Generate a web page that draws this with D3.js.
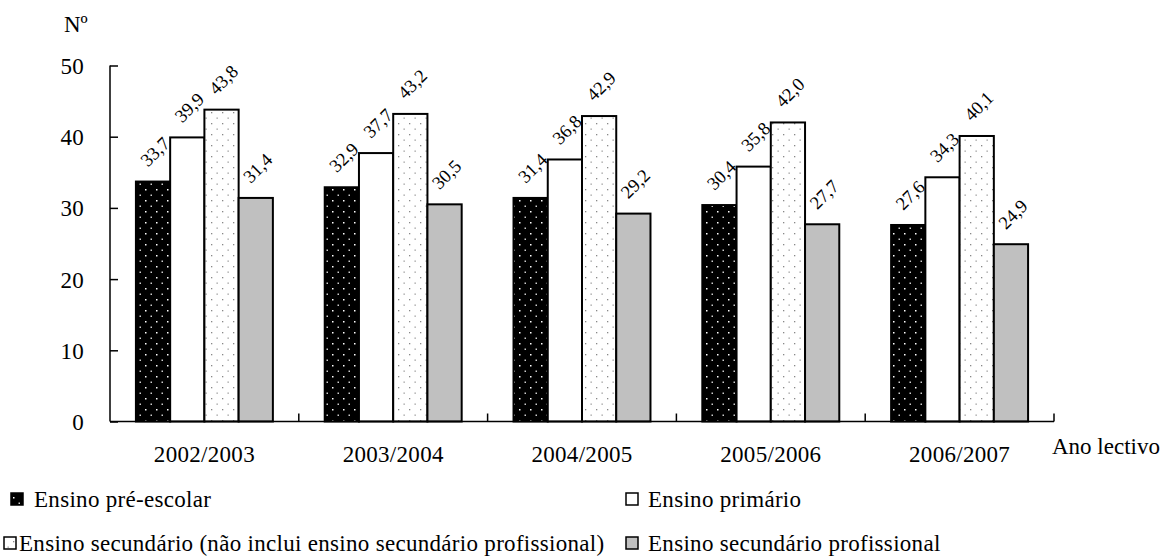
<!DOCTYPE html>
<html>
<head>
<meta charset="utf-8">
<script src="https://cdn.jsdelivr.net/npm/d3@7"></script>
<style>
  html, body { margin: 0; padding: 0; background: #fff; }
  svg { display: block; }
  text { font-family: "Liberation Serif", "Times New Roman", serif; fill: #000; }
</style>
</head>
<body>
<svg id="chart" width="1162" height="558"></svg>
<script>
const years = ["2002/2003", "2003/2004", "2004/2005", "2005/2006", "2006/2007"];
const seriesNames = [
  "Ensino pré-escolar",
  "Ensino primário",
  "Ensino secundário (não inclui ensino secundário profissional)",
  "Ensino secundário profissional"
];
const preEscolar = [33.7, 32.9, 31.4, 30.4, 27.6];
const primario = [39.9, 37.7, 36.8, 35.8, 34.3];
const secundario = [43.8, 43.2, 42.9, 42.0, 40.1];
const profissional = [31.4, 30.5, 29.2, 27.7, 24.9];
const yTicks = [0, 10, 20, 30, 40, 50];
const yTitle = "Nº";
const xTitle = "Ano lectivo";

const seriesValues = [preEscolar, primario, secundario, profissional];
const fills = ["url(#patPre)", "#ffffff", "url(#patSec)", "#c0c0c0"];

const svg = d3.select("#chart");
const defs = svg.append("defs");

// black with white dots
const p1 = defs.append("pattern").attr("id", "patPre").attr("patternUnits", "userSpaceOnUse")
  .attr("width", 11).attr("height", 11);
p1.append("rect").attr("width", 11).attr("height", 11).attr("fill", "#000");
p1.append("rect").attr("x", 2).attr("y", 2).attr("width", 1.5).attr("height", 1.5).attr("fill", "#fff");
p1.append("rect").attr("x", 7.5).attr("y", 7.5).attr("width", 1.5).attr("height", 1.5).attr("fill", "#ccc");

// white with grey dots
const p2 = defs.append("pattern").attr("id", "patSec").attr("patternUnits", "userSpaceOnUse")
  .attr("width", 11).attr("height", 11);
p2.append("rect").attr("width", 11).attr("height", 11).attr("fill", "#fff");
p2.append("rect").attr("x", 2).attr("y", 2).attr("width", 1.3).attr("height", 1.3).attr("fill", "#888");
p2.append("rect").attr("x", 7.5).attr("y", 7.5).attr("width", 1.3).attr("height", 1.3).attr("fill", "#999");

const plotLeft = 110, plotRight = 1054, plotTop = 65.5, plotBottom = 421.5;

const x0 = d3.scaleBand().domain(years).range([plotLeft, plotRight]).paddingInner(0).paddingOuter(0);
const x1 = d3.scaleBand().domain(d3.range(seriesValues.length)).range([0, x0.bandwidth()])
  .paddingInner(0).paddingOuter(0.757);
const y = d3.scaleLinear().domain([0, 50]).range([plotBottom, plotTop]);

// bars
const data = [];
years.forEach((yr, i) => {
  seriesValues.forEach((arr, s) => {
    data.push({ year: yr, s: s, v: arr[i] });
  });
});

const g = svg.append("g");
g.selectAll("rect.bar").data(data).enter().append("rect")
  .attr("class", "bar")
  .attr("x", d => x0(d.year) + x1(d.s))
  .attr("y", d => y(d.v))
  .attr("width", x1.bandwidth())
  .attr("height", d => y(0) - y(d.v))
  .attr("fill", d => fills[d.s])
  .attr("stroke", "#000")
  .attr("stroke-width", 2);

// value labels
const fmt = v => d3.format(".1f")(v).replace(".", ",");
g.selectAll("text.val").data(data).enter().append("text")
  .attr("class", "val")
  .attr("transform", d => {
    const cx = x0(d.year) + x1(d.s) + x1.bandwidth() / 2;
    return `translate(${cx - 5},${y(d.v) - 14}) rotate(-45)`;
  })
  .attr("font-size", 18.5)
  .text(d => fmt(d.v));

// y axis
const yAxis = d3.axisLeft(y).tickValues(yTicks).tickSize(-8).tickPadding(26).tickFormat(d3.format("d"));
const ya = svg.append("g").attr("transform", `translate(${plotLeft},0)`).call(yAxis);
ya.select(".domain").attr("stroke", "#000").attr("stroke-width", 1.5).attr("d", `M0,${plotTop}V${plotBottom}`);
ya.selectAll(".tick line").attr("stroke", "#000").attr("stroke-width", 1.5);
ya.selectAll(".tick text").attr("font-size", 23).attr("letter-spacing", 0.3)
  .attr("font-family", "Liberation Serif").attr("dy", "0.35em").attr("fill", "#000");

// x axis
const xa = svg.append("g").attr("transform", `translate(0,${plotBottom})`);
xa.append("line").attr("x1", plotLeft).attr("x2", plotRight).attr("y1", 0).attr("y2", 0)
  .attr("stroke", "#000").attr("stroke-width", 1.5);
const bounds = years.map(yr => x0(yr) + x0.bandwidth());
xa.selectAll("line.tk").data(bounds).enter().append("line").attr("class", "tk")
  .attr("x1", d => d).attr("x2", d => d).attr("y1", 0).attr("y2", -8)
  .attr("stroke", "#000").attr("stroke-width", 1.5);
xa.selectAll("text.xl").data(years).enter().append("text").attr("class", "xl")
  .attr("x", d => x0(d) + x0.bandwidth() / 2)
  .attr("y", 40.5)
  .attr("text-anchor", "middle")
  .attr("font-size", 23).attr("letter-spacing", 0.3)
  .text(d => d);

// titles
svg.append("text").attr("x", 64).attr("y", 32).attr("font-size", 23).text(yTitle);
svg.append("text").attr("x", 1052).attr("y", 454).attr("font-size", 23).text(xTitle);

// legend
const legendPos = [
  { mx: 11, tx: 34, y: 507 },
  { mx: 626, tx: 648, y: 507 },
  { mx: 4, tx: 19, y: 551 },
  { mx: 626, tx: 648, y: 551 }
];
const lg = svg.append("g");
seriesNames.forEach((name, i) => {
  const p = legendPos[i];
  lg.append("rect").attr("x", p.mx).attr("y", p.y - 14).attr("width", 12).attr("height", 12)
    .attr("fill", fills[i]).attr("stroke", "#000").attr("stroke-width", 1.5);
  lg.append("text").attr("x", p.tx).attr("y", p.y).attr("font-size", 23).attr("letter-spacing", 0.3).text(name);
});
</script>
</body>
</html>
